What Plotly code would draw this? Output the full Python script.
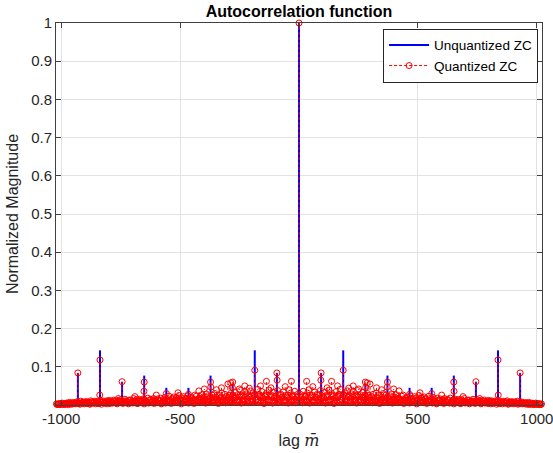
import numpy as np
import plotly.graph_objects as go

# Zero-lag peak (normalized)
main_lag = 0
main_peak = 1.0

# Sidelobe peaks at positive lags; |R(-m)| = |R(m)| so negative lags mirror these
peak_lags = [93, 186, 279, 372, 465, 558, 651, 744, 837, 930]
peak_unquantized = [0.084, 0.143, 0.055, 0.077, 0.045, 0.045, 0.077, 0.061, 0.143, 0.084]
peak_quantized = [0.084, 0.091, 0.060, 0.060, 0.028, 0.030, 0.060, 0.061, 0.118, 0.084]

# Second quantized sample right next to some of the peaks
side_lags = [92, 280, 371, 652, 838]
side_quantized = [0.065, 0.045, 0.047, 0.036, 0.026]

# Isolated quantized sidelobes standing above the floor
spur_lags = [32, 58, 118, 137, 162, 209, 228, 251, 287, 299, 326, 347, 398, 421, 509, 600, 690, 760]
spur_quantized = [0.062, 0.048, 0.045, 0.062, 0.050, 0.044, 0.050, 0.042, 0.058, 0.055,
                  0.045, 0.040, 0.042, 0.037, 0.032, 0.026, 0.022, 0.017]

# Quantized sidelobe floor at lags 6, 12, ..., 1020 (values x 1000)
floor_step = 6
floor_permille = [
    28, 14, 36, 22, 9, 31, 40, 18, 25, 12, 34, 20, 29, 16, 38, 24,
    21, 33, 11, 27, 39, 15, 30, 24, 8, 35, 19, 28, 41, 13, 26, 32, 17, 37, 22, 10,
    29, 35, 16, 24, 38, 12, 27, 21, 33, 18, 9, 30, 25, 14,
    22, 28, 12, 31, 17, 25, 9, 20, 30, 14, 26, 19, 7, 24, 29, 11, 21, 27, 15, 18, 8, 23, 26, 13, 19,
    20, 12, 24, 16, 7, 22, 18, 10, 25, 14, 19, 6, 21, 17, 11, 23, 13, 9, 20, 15, 5, 18, 12, 16, 10,
    14, 17, 8, 15, 11, 18, 6, 13, 16, 9, 12, 15, 4, 14, 10, 17, 7, 12, 13, 8, 11, 15, 6, 10, 14,
    9, 12, 5, 11, 13, 7, 10, 12,
    9, 11, 5, 10, 8, 12, 4, 9, 7, 10, 6, 8, 11, 3, 7, 9, 5, 8, 6, 10, 4, 7, 8, 5, 6,
    6, 4, 7, 3, 5, 4, 2, 5, 3, 4, 2, 3,
]

# Quantized floor at the in-between lags 3, 9, ..., 1017 (values x 1000)
floor_mid_permille = [
    12, 20, 6, 15, 24, 9, 17, 5, 21, 13, 8, 19, 11, 26, 7, 16,
    10, 18, 5, 22, 13, 8, 25, 15, 4, 19, 11, 23, 7, 16, 12, 27, 9, 14, 20, 6,
    17, 24, 10, 13, 5, 21, 15, 8, 18, 12, 26, 7, 14, 19,
    11, 6, 17, 9, 21, 13, 4, 15, 10, 19, 7, 12, 22, 8, 14, 5, 16, 11, 18, 6, 13, 9, 15, 4, 12,
    8, 14, 5, 11, 17, 7, 12, 3, 15, 9, 6, 13, 10, 16, 4, 11, 8, 14, 5, 12, 9, 3, 10, 13, 6,
    9, 4, 11, 7, 13, 5, 8, 10, 3, 12, 6, 9, 11, 4, 7, 10, 5, 8, 12, 3, 9, 6, 10, 4, 8, 7, 11, 3, 6, 9, 5, 8, 4,
    6, 3, 8, 5, 7, 2, 9, 4, 6, 3, 7, 5, 8, 2, 6, 4, 7, 3, 5, 6, 2, 4, 5, 3, 4,
    3, 2, 4, 1, 3, 2, 1, 3, 2, 1, 2, 1,
]

x_ticks = [-1000, -500, 0, 500, 1000]
y_ticks = [0.1, 0.2, 0.3, 0.4, 0.5, 0.6, 0.7, 0.8, 0.9, 1.0]
y_ticktext = ["0.1", "0.2", "0.3", "0.4", "0.5", "0.6", "0.7", "0.8", "0.9", "1"]
max_lag = 1022

BLUE = "#0000ff"
RED = "#ff0000"
AXIS = "#404040"
FONT = "Liberation Sans, Arial, Helvetica, sans-serif"


def both_sides(lags, vals):
    lags = np.asarray(lags, dtype=float)
    vals = np.asarray(vals, dtype=float)
    return np.concatenate([-lags[::-1], lags]), np.concatenate([vals[::-1], vals])


def stem_xy(lags, vals):
    xs, ys = [], []
    for l, v in zip(lags, vals):
        xs += [l, l, None]
        ys += [0, v, None]
    return xs, ys


floor_lags = floor_step * np.arange(1, len(floor_permille) + 1)
floor_vals = np.asarray(floor_permille) / 1000.0
floor_mid_lags = floor_step * np.arange(len(floor_mid_permille)) + floor_step // 2
floor_mid_vals = np.asarray(floor_mid_permille) / 1000.0

# Unquantized series
u_lags, u_vals = both_sides(peak_lags, peak_unquantized)
u_lags = np.append(u_lags, main_lag)
u_vals = np.append(u_vals, main_peak)

# Quantized series
q_parts = [both_sides(floor_mid_lags, floor_mid_vals),
           both_sides(floor_lags, floor_vals),
           both_sides(spur_lags, spur_quantized),
           both_sides(side_lags, side_quantized),
           both_sides(peak_lags, peak_quantized)]
q_lags = np.concatenate([p[0] for p in q_parts] + [[main_lag]])
q_vals = np.concatenate([p[1] for p in q_parts] + [[main_peak]])

fig = go.Figure()

ux, uy = stem_xy(u_lags, u_vals)
fig.add_trace(go.Scatter(x=ux, y=uy, mode="lines", line=dict(color=BLUE, width=2),
                         showlegend=False, hoverinfo="skip", cliponaxis=False))

qx, qy = stem_xy(q_lags, q_vals)
fig.add_trace(go.Scatter(x=qx, y=qy, mode="lines",
                         line=dict(color=RED, width=1, dash="3px,2px"),
                         showlegend=False, hoverinfo="skip", cliponaxis=False))
fig.add_trace(go.Scatter(x=q_lags, y=q_vals, mode="markers",
                         marker=dict(symbol="circle-open", size=6, color=RED,
                                     line=dict(width=1, color=RED)),
                         showlegend=False, cliponaxis=False))

# Legend entries
fig.add_trace(go.Scatter(x=[None], y=[None], mode="lines", name="Unquantized ZC",
                         line=dict(color=BLUE, width=2)))
fig.add_trace(go.Scatter(x=[None], y=[None], mode="lines+markers", name="Quantized ZC",
                         line=dict(color=RED, width=1, dash="3px,2px"),
                         marker=dict(symbol="circle-open", size=6, color=RED,
                                     line=dict(width=1, color=RED))))

axis_common = dict(showline=True, linecolor=AXIS, linewidth=1, mirror="ticks",
                   ticks="inside", ticklen=5, tickcolor=AXIS, automargin=False,
                   ticklabeloverflow="allow",
                   showgrid=True, gridcolor="#e3e3e3", gridwidth=1, zeroline=False,
                   tickfont=dict(family=FONT, size=15, color="#262626"))

fig.update_layout(
    width=553, height=453,
    margin=dict(l=56, r=11, t=23, b=48),
    paper_bgcolor="white", plot_bgcolor="white",
    font=dict(family=FONT, color="#262626"),
    title=dict(text="<b>Autocorrelation function</b>", x=0.5, xref="paper",
               y=0.974, yref="container", yanchor="middle",
               font=dict(family=FONT, size=16, color="#000000")),
    xaxis=dict(range=[-max_lag, max_lag], tickvals=x_ticks,
               ticktext=[str(t) for t in x_ticks],
               title=dict(text='lag <span style="font-family:DejaVu Serif"><i>m\u0304</i></span>',
                          standoff=8,
                          font=dict(family=FONT, size=16, color="#262626")),
               **axis_common),
    yaxis=dict(range=[0, 1], tickvals=y_ticks, ticktext=y_ticktext,
               title=dict(text="Normalized Magnitude", standoff=8,
                          font=dict(family=FONT, size=16, color="#262626")),
               **axis_common),
    legend=dict(x=0.673, y=0.985, xanchor="left", yanchor="top",
                bgcolor="white", bordercolor="#262626", borderwidth=1,
                font=dict(family=FONT, size=13.5, color="#000000"),
                tracegroupgap=0, itemwidth=40),
    showlegend=True,
)

fig.write_html("out.html")
